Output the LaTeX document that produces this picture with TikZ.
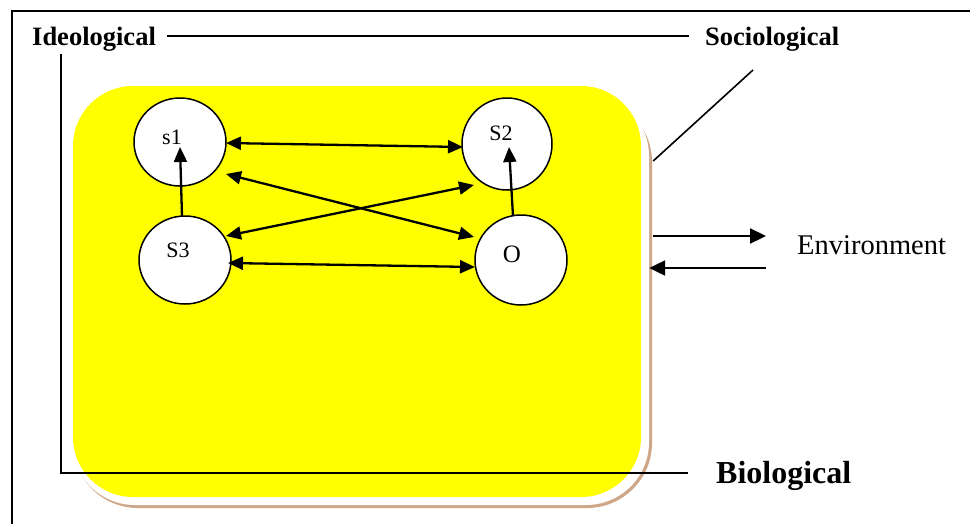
\documentclass[tikz,border=0pt]{standalone}
\usepackage{fontspec}
\setmainfont{Liberation Serif}
\usetikzlibrary{arrows.meta,calc,shapes.geometric}

\definecolor{cellyellow}{RGB}{255,255,0}
\definecolor{shadowtan}{RGB}{206,166,136}

\begin{document}
\begin{tikzpicture}[x=1pt,y=-1pt,
  >={Triangle[length=15pt,width=13pt]},
  cell/.style={rectangle,rounded corners=60pt,fill=cellyellow,draw=none,
    minimum width=568pt,minimum height=411pt,inner sep=0pt},
  state/.style={ellipse,draw=black,line width=1.5pt,fill=white,
    minimum width=92pt,minimum height=88pt,inner sep=0pt},
  lbl/.style={font=\fontsize{22}{22}\selectfont,inner sep=0pt,anchor=base},
  link/.style={line width=2.3pt,<->},
  uplink/.style={line width=2.3pt,->},
  envarrow/.style={line width=2.3pt,-{Triangle[length=16pt,width=15pt]}},
  rule/.style={line width=1.6pt},
  heading/.style={font=\fontsize{26.5}{26.5}\selectfont\bfseries,inner sep=0pt,anchor=base west}
]
\useasboundingbox (0,0) rectangle (970,523);
\clip (0,0) rectangle (970,523);
\fill[white] (0,0) rectangle (970,523);

% outer frame
\draw[line width=2pt] (12,560) -- (12,10.5) -- (1000,10.5);

% cell with its offset shadow
\fill[shadowtan,rounded corners=65pt] (73,97) rectangle (652,508);
\fill[white,rounded corners=63pt] (72,93) rectangle (649,505);
\node[cell] (cell) at (357,291.5) {};

% the four members
\node[state] (s1) at (180,142) {};
\node[state,minimum width=90pt,minimum height=92pt] (s2) at (507,144) {};
\node[state] (s3) at (185,260) {};
\node[state,minimum height=90pt] (o) at (521,260) {};

\node[lbl] (s1t) at (172,144) {s1};
\node[lbl] (s2t) at (501,140) {S2};
\node[lbl] (s3t) at (178,257) {S3};
\node[lbl,font=\fontsize{25}{25}\selectfont] (ot) at (512,262) {O};

% relations between the members
\draw[link] ($(s1)+(46,1)$) -- ($(s2)+(-44,3)$);
\draw[link] ($(s1)+(46,32)$) -- ($(o)+(-47,-23)$);
\draw[link] ($(s3)+(41,-24)$) -- ($(s2)+(-33,41)$);
\draw[link] ($(s3)+(43,3)$) -- ($(o)+(-46,7)$);
\draw[uplink] ($(s3)+(-3,-44)$) -- ($(s1)+(0,5)$);
\draw[uplink] ($(o)+(-8,-44)$) -- ($(s2)+(2,3)$);

% level labels
\node[heading] (ideo) at (32,45) {Ideological};
\node[heading] (socio) at (705,45) {Sociological};
\node[inner sep=0pt,anchor=base west,font=\fontsize{32}{32}\selectfont\bfseries] (bio) at (716,483) {Biological};
\node[inner sep=0pt,anchor=base west,font=\fontsize{28.5}{28.5}\selectfont] (env) at (797,254) {Environment};

\draw[rule] ($(ideo.base east)+(11,-9)$) -- ($(socio.base west)+(-16,-9)$);
\draw[rule] ($(ideo.base west)+(29,9)$) |- ($(bio.base west)+(-28,-10)$);
\coordinate (socfoot) at ($(socio.base west)+(48,25)$);
\draw[rule] (socfoot) -- ($(cell.east)+(12,-130.5)$);

% exchange with the environment
\coordinate (envout) at ($(env.base west)+(-31,-18)$);
\coordinate (envin) at ($(env.base west)+(-31,14)$);
\draw[envarrow] ($(cell.east)+(12,-55.5)$) -- (envout);
\draw[envarrow] (envin) -- ($(cell.east)+(8,-23.5)$);
\end{tikzpicture}
\end{document}
